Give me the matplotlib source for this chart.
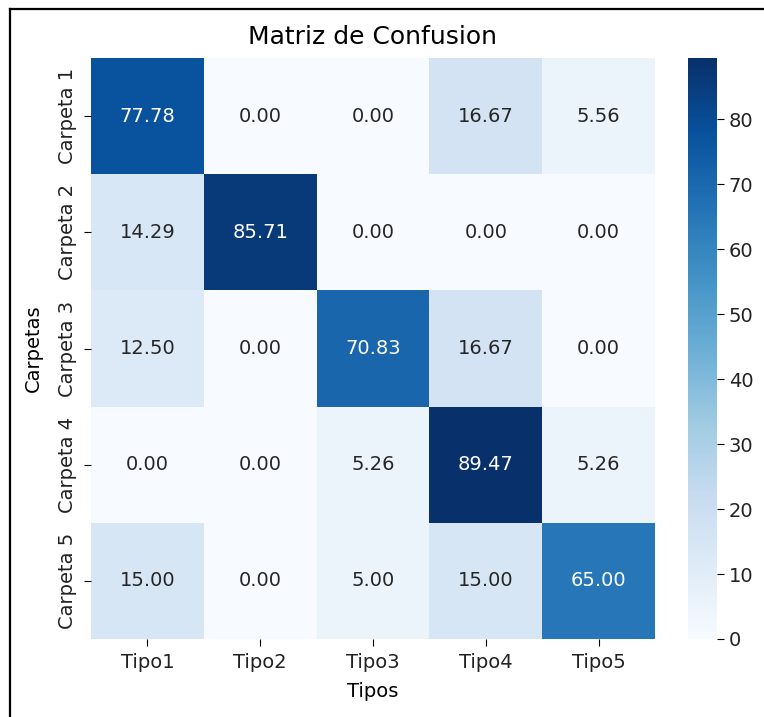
import numpy as np
import matplotlib
matplotlib.use("Agg")
import matplotlib.pyplot as plt
import seaborn as sns
from matplotlib.lines import Line2D

carpetas = ["Carpeta 1", "Carpeta 2", "Carpeta 3", "Carpeta 4", "Carpeta 5"]
tipos = ["Tipo1", "Tipo2", "Tipo3", "Tipo4", "Tipo5"]
carpeta1 = [77.78, 0.00, 0.00, 16.67, 5.56]
carpeta2 = [14.29, 85.71, 0.00, 0.00, 0.00]
carpeta3 = [12.50, 0.00, 70.83, 16.67, 0.00]
carpeta4 = [0.00, 0.00, 5.26, 89.47, 5.26]
carpeta5 = [15.00, 0.00, 5.00, 15.00, 65.00]

matriz = np.array([carpeta1, carpeta2, carpeta3, carpeta4, carpeta5])

fs = 14

fig = plt.figure(figsize=(7.64, 7.17), dpi=100)
ax = fig.add_axes([91/764, 1-639/717, 564/764, 581/717])
cax = fig.add_axes([688/764, 1-639/717, 29/764, 581/717])

sns.heatmap(matriz, annot=True, fmt=".2f", cmap="Blues",
            xticklabels=tipos, yticklabels=carpetas,
            annot_kws={"fontsize": fs},
            ax=ax, cbar_ax=cax)
ax.set_title("Matriz de Confusion", fontsize=18, pad=10)
ax.set_xlabel("Tipos", fontsize=fs, labelpad=7)
ax.set_ylabel("Carpetas", fontsize=fs)
ax.yaxis.set_label_coords(-0.085, 0.5)
ax.tick_params(labelsize=fs, length=5, pad=5, labelcolor="#222222")
cax.tick_params(labelsize=fs, length=5, labelcolor="#222222")

# frame around the figure
x0 = 9.5/764
y0 = 1 - 8.5/717
fig.add_artist(Line2D([x0, x0], [0, y0], transform=fig.transFigure,
                      color="black", lw=1.6))
fig.add_artist(Line2D([x0, 1], [y0, y0], transform=fig.transFigure,
                      color="black", lw=1.6))

fig.savefig("out.png", dpi=100)
